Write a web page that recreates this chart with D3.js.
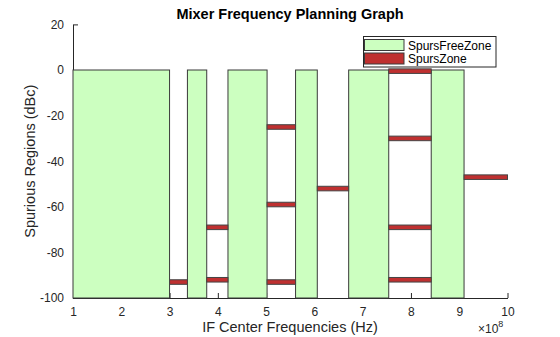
<!DOCTYPE html>
<html>
<head>
<meta charset="utf-8">
<script src="https://cdn.jsdelivr.net/npm/d3@7"></script>
<style>
  html, body { margin: 0; padding: 0; background: #fff; }
  svg { display: block; font-family: "Liberation Sans", Arial, Helvetica, sans-serif; }
</style>
</head>
<body>
<svg id="chart" width="560" height="337"></svg>
<script>
// IF bands free of spurs, in units of 1e8 Hz: [start, end]
const freeZoneStart = [1.00, 3.37, 4.21, 5.61, 6.71, 8.42];
const freeZoneEnd   = [3.00, 3.77, 5.02, 6.06, 7.54, 9.10];

// Spur bands: frequency span (1e8 Hz) and spur level (dBc)
const spurStart = [3.00, 3.77, 3.77, 5.02, 5.02, 5.02, 6.06, 7.54, 7.54, 7.54, 7.54, 9.10];
const spurEnd   = [3.37, 4.21, 4.21, 5.61, 5.61, 5.61, 6.71, 8.42, 8.42, 8.42, 8.42, 10.00];
const spurLevel = [-93, -69, -92, -25, -59, -93, -52, -0.5, -30, -69, -92, -47];

const xTicks = [1, 2, 3, 4, 5, 6, 7, 8, 9, 10];
const yTicks = [-100, -80, -60, -40, -20, 0, 20];
const floorLevel = -100;
const spurHalfHeight = 1;   // dB, half thickness of a spur bar

const svg = d3.select("#chart");
const x = d3.scaleLinear().domain([1, 10]).range([73, 507.5]);
const y = d3.scaleLinear().domain([-100, 20]).range([298, 24.4]);

const axisColor = "#262626";
const plainNumber = d => String(d);   // hyphen-minus, as in the tick labels

// Axes (drawn beneath the data)
const gx = svg.append("g")
  .attr("transform", `translate(0,${y(-100)})`)
  .call(d3.axisBottom(x).tickValues(xTicks).tickSizeInner(-5).tickSizeOuter(0).tickPadding(9).tickFormat(plainNumber));
const gy = svg.append("g")
  .attr("transform", `translate(${x(1)},0)`)
  .call(d3.axisLeft(y).tickValues(yTicks).tickSizeInner(-5).tickSizeOuter(0).tickPadding(9).tickFormat(plainNumber));
[gx, gy].forEach(g => {
  g.select(".domain").attr("stroke", axisColor);
  g.selectAll(".tick line").attr("stroke", axisColor);
  g.selectAll(".tick text").attr("fill", axisColor).style("font-size", "12px").style("font-family", "'Liberation Sans', Arial, sans-serif");
});

// Spur-free zones
const free = freeZoneStart.map((s, i) => ({ s, e: freeZoneEnd[i] }));
svg.append("g").selectAll("rect").data(free).join("rect")
  .attr("x", d => x(d.s))
  .attr("y", y(0))
  .attr("width", d => x(d.e) - x(d.s))
  .attr("height", y(floorLevel) - y(0))
  .attr("fill", "#ccffc0")
  .attr("stroke", "#3a3a3a")
  .attr("stroke-width", 1);

// Spur zones
const spurs = spurStart.map((s, i) => ({ s, e: spurEnd[i], v: spurLevel[i] }));
svg.append("g").selectAll("rect").data(spurs).join("rect")
  .attr("x", d => x(d.s))
  .attr("y", d => y(d.v + spurHalfHeight))
  .attr("width", d => x(d.e) - x(d.s))
  .attr("height", d => y(d.v - spurHalfHeight) - y(d.v + spurHalfHeight))
  .attr("fill", "#bf3030")
  .attr("stroke", "#444")
  .attr("stroke-width", 1);

// Title and axis labels
svg.append("text")
  .attr("x", 290).attr("y", 19)
  .attr("text-anchor", "middle")
  .style("font-size", "14.5px").style("font-weight", "bold")
  .attr("fill", "#000")
  .text("Mixer Frequency Planning Graph");

svg.append("text")
  .attr("x", 290).attr("y", 332)
  .attr("text-anchor", "middle")
  .style("font-size", "14.5px")
  .attr("fill", axisColor)
  .text("IF Center Frequencies (Hz)");

svg.append("text")
  .attr("transform", `translate(35,${(y(-100) + y(20)) / 2}) rotate(-90)`)
  .attr("text-anchor", "middle")
  .style("font-size", "14.5px")
  .attr("fill", axisColor)
  .text("Spurious Regions (dBc)");

const expo = svg.append("text")
  .attr("x", 478).attr("y", 333)
  .style("font-size", "12px")
  .attr("fill", axisColor);
expo.append("tspan").text("\u00d710");
expo.append("tspan").attr("dy", -6).style("font-size", "9px").text("8");

// Legend
const lg = svg.append("g");
lg.append("rect")
  .attr("x", 363.5).attr("y", 36.5).attr("width", 132.5).attr("height", 30.5)
  .attr("fill", "#fff").attr("stroke", "#262626").attr("stroke-width", 1);
const legendItems = [
  { label: "SpursFreeZone", fill: "#ccffc0" },
  { label: "SpursZone", fill: "#bf3030" }
];
legendItems.forEach((d, i) => {
  const yy = 39.5 + i * 13.5;
  lg.append("rect")
    .attr("x", 364.5).attr("y", yy).attr("width", 39.5).attr("height", 11)
    .attr("fill", d.fill).attr("stroke", "#3a3a3a").attr("stroke-width", 1);
  lg.append("text")
    .attr("x", 408).attr("y", yy + 10)
    .style("font-size", "12px")
    .attr("fill", "#000")
    .text(d.label);
});
</script>
</body>
</html>
